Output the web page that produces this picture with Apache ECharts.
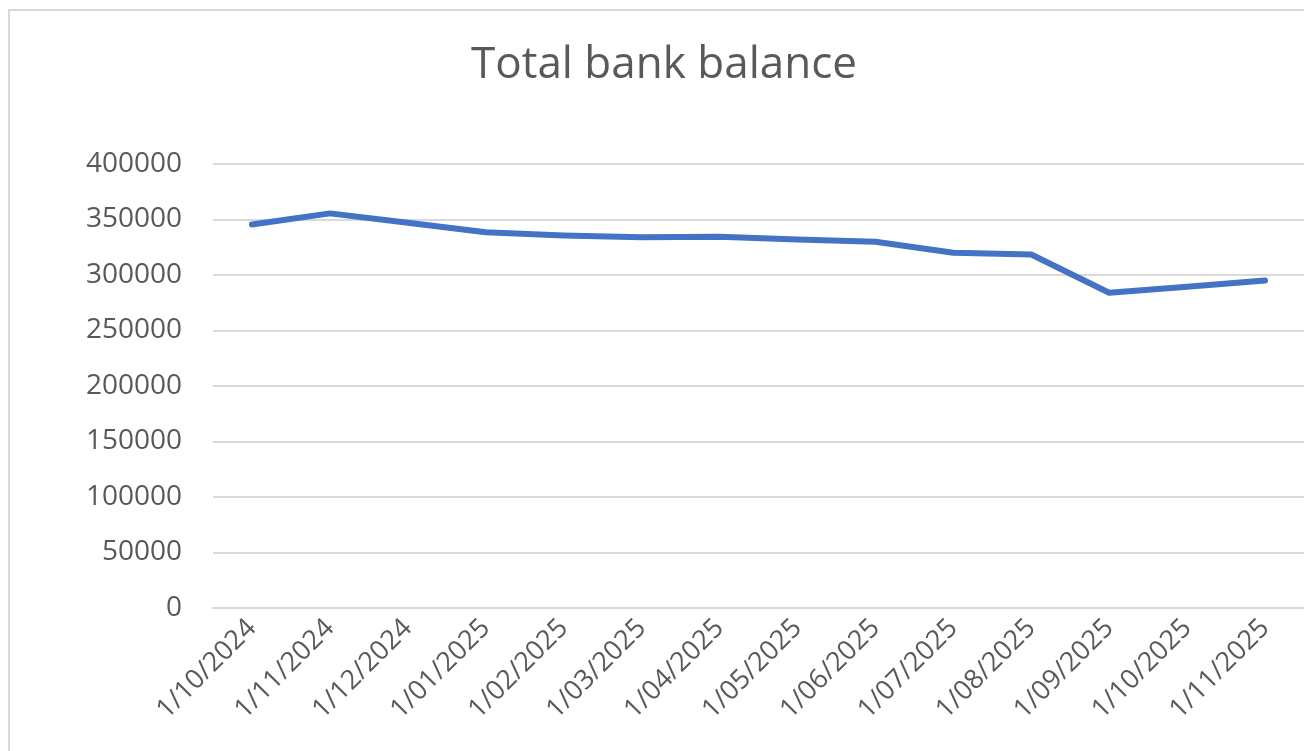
<!DOCTYPE html>
<html lang="en">
<head>
    <meta charset="UTF-8">
    <title>Total bank balance</title>
    <script src="https://cdn.jsdelivr.net/npm/echarts@6/dist/echarts.min.js"></script>
    <style>
        body {
            margin: 0;
            padding: 0;
            background-color: white;
            overflow: hidden;
        }
        #main {
            width: 1304px;
            height: 751px;
        }
        /* chart frame, cut off at right and bottom like the screenshot */
        #frame {
            position: absolute;
            left: 8px;
            top: 9px;
            width: 1400px;
            height: 800px;
            border-left: 2px solid #d9d9d9;
            border-top: 2px solid #d9d9d9;
            pointer-events: none;
        }
    </style>
</head>
<body>
    <div id="frame"></div>
    <div id="main"></div>

    <script type="text/javascript">
        var months = ['1/10/2024', '1/11/2024', '1/12/2024', '1/01/2025', '1/02/2025', '1/03/2025', '1/04/2025',
                      '1/05/2025', '1/06/2025', '1/07/2025', '1/08/2025', '1/09/2025', '1/10/2025', '1/11/2025'];
        var balance = [345500, 355500, 347000, 338500, 335500, 334000, 334500,
                       332000, 330000, 320000, 318500, 284000, 289500, 295000];

        var myChart = echarts.init(document.getElementById('main'));
        var textColor = '#595959';
        var fontName = 'Open Sans';

        var option = {
            animation: false,
            title: {
                text: 'Total bank balance',
                left: 466,
                top: 38,
                textStyle: {
                    color: textColor,
                    fontFamily: fontName,
                    fontWeight: 'normal',
                    fontSize: 44
                }
            },
            grid: {
                left: 213,
                top: 164,
                width: 1092,
                height: 444
            },
            xAxis: {
                type: 'category',
                data: months,
                boundaryGap: true,
                axisLine: { lineStyle: { color: '#d9d9d9', width: 2 } },
                axisTick: { length: 9, lineStyle: { color: '#d9d9d9', width: 2 } },
                axisLabel: {
                    interval: 0,
                    rotate: 45,
                    margin: 16,
                    color: textColor,
                    fontFamily: fontName,
                    fontSize: 27
                }
            },
            yAxis: {
                type: 'value',
                min: 0,
                max: 400000,
                interval: 50000,
                axisLine: { show: false },
                axisTick: { show: false },
                splitLine: { lineStyle: { color: '#d9d9d9', width: 2 } },
                axisLabel: {
                    margin: 31,
                    color: textColor,
                    fontFamily: fontName,
                    fontSize: 28,
                    formatter: function (v) { return String(v); }
                }
            },
            series: [{
                name: 'Total bank balance',
                type: 'line',
                data: balance,
                symbol: 'none',
                lineStyle: { color: '#4472c4', width: 6, cap: 'round', join: 'round' }
            }]
        };

        myChart.setOption(option);
    </script>
</body>
</html>
